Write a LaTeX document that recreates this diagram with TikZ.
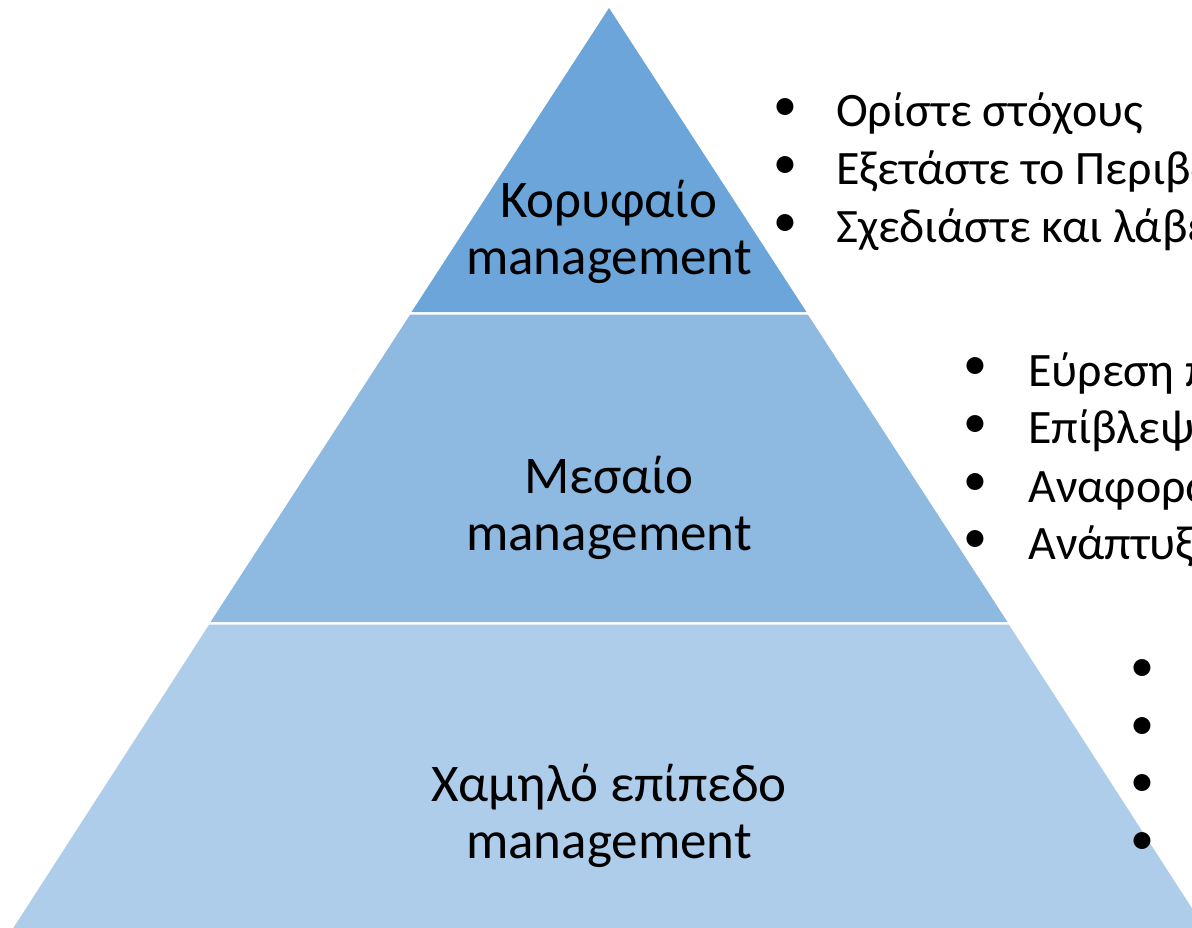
\documentclass[tikz,border=0pt]{standalone}
\usepackage{fontspec}
\setmainfont{Carlito}
\definecolor{topc}{RGB}{108,165,218}
\definecolor{midc}{RGB}{142,185,225}
\definecolor{lowc}{RGB}{174,205,234}
\begin{document}
\begin{tikzpicture}[x=1pt,y=-1pt,
  lbl/.style={align=center,font=\fontsize{53}{57}\selectfont,inner sep=0pt},
  item/.style={anchor=west,font=\fontsize{48}{50}\selectfont,inner sep=0pt},
  bul/.style={font=\fontsize{48}{50}\selectfont,inner sep=0pt}]
\useasboundingbox (0,0) rectangle (1192,927);
\clip (0,0) rectangle (1192,927);
% layers
\fill[topc] (609,8) -- (806.5,312) -- (411.5,312) -- cycle;
\fill[midc] (806.5+1.3,314.5) -- (1007.5,622) -- (210.5,622) -- (411.5-1.3,314.5) -- cycle;
\fill[lowc] (1007.5+1.3,624.5) -- (1206,930) -- (12,930) -- (210.5-1.3,624.5) -- cycle;
% labels
\node[lbl] (top) at (609,231.5) {Κορυφαίο\\management};
\node[lbl] (mid) at (609,507.5) {Μεσαίο\\management};
\node[lbl] (low) at (609,815.5) {Χαμηλό επίπεδο\\management};
% top bullets
\node[bul] (b1) at (785,110) {•};
\node[item] (t1) at (836,114) {Ορίστε στόχους};
\node[bul] (b2) at (785,168) {•};
\node[item] (t2) at (836,172) {Εξετάστε το Περιβάλλον};
\node[bul] (b3) at (785,226) {•};
\node[item] (t3) at (836,230) {Σχεδιάστε και λάβετε αποφάσεις};
% middle bullets
\node[bul] (m1) at (975,369) {•};
\node[item] (u1) at (1028,373) {Εύρεση πόρων};
\node[bul] (m2) at (975,427) {•};
\node[item] (u2) at (1028,431) {Επίβλεψη};
\node[bul] (m3) at (975,485) {•};
\node[item] (u3) at (1028,489) {Αναφορά};
\node[bul] (m4) at (975,542) {•};
\node[item] (u4) at (1028,546) {Ανάπτυξη};
% low bullets
\node[bul] (l1) at (1142,671) {•};
\node[bul] (l2) at (1142,729) {•};
\node[bul] (l3) at (1142,786) {•};
\node[bul] (l4) at (1142,844) {•};
\end{tikzpicture}
\end{document}
